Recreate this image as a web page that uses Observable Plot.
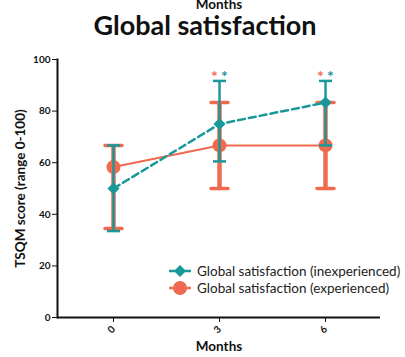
<!DOCTYPE html>
<html>
<head>
<meta charset="utf-8">
<script src="https://cdn.jsdelivr.net/npm/d3@7"></script>
<script src="https://cdn.jsdelivr.net/npm/@observablehq/plot@0.6"></script>
<style>
  html, body { margin: 0; padding: 0; background: #fff; }
  #wrap { position: relative; width: 405px; height: 357px; overflow: hidden; font-family: Lato, "Open Sans", sans-serif; }
  #topMonths { position: absolute; left: 0; width: 438px; top: -3px; text-align: center; font-weight: bold; font-size: 13.5px; color: #111; line-height: 14px; }
  #title { position: absolute; left: 0; width: 410px; top: 12px; text-align: center; font-weight: bold; font-size: 27px; color: #111; line-height: 26px; }
  #legend { position: absolute; left: 168px; top: 262px; font-size: 13.5px; color: #222; white-space: nowrap; }
  #legend div { height: 17px; display: flex; align-items: center; }
  #legend svg { margin-right: 5px; }
  #chart { position: absolute; left: 0; top: 0; }
  #chart svg { font-family: Lato, "Open Sans", sans-serif; }
</style>
</head>
<body>
<div id="wrap">
  <div id="chart"></div>
  <div id="topMonths">Months</div>
  <div id="title">Global satisfaction</div>
  <div id="legend"></div>
</div>
<script>
const months = [0, 3, 6];
const inexpMean = [50, 75, 83.3];
const inexpLow = [33.5, 60.5, 66.7];
const inexpHigh = [66.7, 91.7, 91.7];
const expMean = [58.3, 66.7, 66.7];
const expLow = [34.5, 50, 50];
const expHigh = [66.7, 83.3, 83.3];
const sigMonths = [3, 6];
const yTicks = [0, 20, 40, 60, 80, 100];
const seriesNames = ["Global satisfaction (inexperienced)", "Global satisfaction (experienced)"];

const TEAL = "#1a9899";
const ORANGE = "#ef6a4e";

const inexp = months.map((m, i) => ({month: m, mean: inexpMean[i], lo: inexpLow[i], hi: inexpHigh[i]}));
const exp = months.map((m, i) => ({month: m, mean: expMean[i], lo: expLow[i], hi: expHigh[i]}));
const sig = sigMonths.map(m => inexp.find(d => d.month === m));

const cap = { draw(ctx, size) { const r = Math.sqrt(size / Math.PI); ctx.moveTo(-r, 0); ctx.lineTo(r, 0); } };

const chart = Plot.plot({
  width: 405,
  height: 357,
  marginTop: 59,
  marginBottom: 40,
  marginLeft: 57,
  marginRight: 25,
  style: { background: "transparent" },
  x: { type: "point", domain: months, padding: 0.51 },
  y: { domain: [0, 100] },
  marks: [
    Plot.ruleY([0], { stroke: "#111", strokeWidth: 2 }),
    Plot.frame({ anchor: "left", stroke: "#111", strokeWidth: 2 }),
    Plot.axisY({ ticks: yTicks, tickSize: 5, tickPadding: 2, fontSize: 10, fontWeight: "bold", color: "#111",
      label: "TSQM score (range 0-100)", labelAnchor: "center", labelOffset: 42, labelArrow: false }),
    Plot.axisX({ ticks: months, tickSize: 5, tickRotate: -45, tickPadding: 5, fontSize: 10, fontWeight: "bold", color: "#111",
      label: "Months", labelAnchor: "center", labelOffset: 33, labelArrow: false }),
    // experienced
    Plot.line(exp, { x: "month", y: "mean", stroke: ORANGE, strokeWidth: 2 }),
    Plot.ruleX(exp, { x: "month", y1: "lo", y2: "hi", stroke: ORANGE, strokeWidth: 4.5 }),
    Plot.dot(exp, { x: "month", y: "lo", symbol: cap, r: 8.5, stroke: ORANGE, strokeWidth: 3.5, strokeLinecap: "round" }),
    Plot.dot(exp, { x: "month", y: "hi", symbol: cap, r: 8.5, stroke: ORANGE, strokeWidth: 3.5, strokeLinecap: "round" }),
    Plot.dot(exp, { x: "month", y: "mean", symbol: "circle", r: 7, fill: ORANGE, stroke: "none" }),
    // inexperienced
    Plot.line(inexp, { x: "month", y: "mean", stroke: TEAL, strokeWidth: 2.5, strokeDasharray: "7,4" }),
    Plot.ruleX(inexp, { x: "month", y1: "lo", y2: "hi", stroke: TEAL, strokeWidth: 2.5 }),
    Plot.dot(inexp, { x: "month", y: "lo", symbol: cap, r: 6.5, stroke: TEAL, strokeWidth: 2.5 }),
    Plot.dot(inexp, { x: "month", y: "hi", symbol: cap, r: 6.5, stroke: TEAL, strokeWidth: 2.5 }),
    Plot.dot(inexp, { x: "month", y: "mean", symbol: "diamond2", r: 5.5, fill: TEAL, stroke: "none" }),
    // significance asterisks
    Plot.text(sig, { x: "month", y: "hi", text: () => "*", dx: -5, dy: -4, fill: ORANGE, fontSize: 16, fontWeight: "bold" }),
    Plot.text(sig, { x: "month", y: "hi", text: () => "*", dx: 5, dy: -4, fill: TEAL, fontSize: 16, fontWeight: "bold" })
  ]
});
document.getElementById("chart").appendChild(chart);

chart.querySelectorAll('[aria-label="y-axis label"] text, [aria-label="x-axis label"] text').forEach(t => {
  t.setAttribute("font-weight", "bold");
  t.setAttribute("font-size", "13.5");
  t.setAttribute("fill", "#111");
});

// legend
const legend = document.getElementById("legend");
const items = [
  { name: seriesNames[0], color: TEAL, shape: "diamond" },
  { name: seriesNames[1], color: ORANGE, shape: "circle" }
];
items.forEach(it => {
  const row = document.createElement("div");
  const ns = "http://www.w3.org/2000/svg";
  const s = document.createElementNS(ns, "svg");
  s.setAttribute("width", "24"); s.setAttribute("height", "16");
  const ln = document.createElementNS(ns, "line");
  ln.setAttribute("x1", "1"); ln.setAttribute("x2", "23"); ln.setAttribute("y1", "8"); ln.setAttribute("y2", "8");
  ln.setAttribute("stroke", it.color); ln.setAttribute("stroke-width", "2.5");
  s.appendChild(ln);
  if (it.shape === "diamond") {
    const p = document.createElementNS(ns, "path");
    p.setAttribute("d", "M12,2 L18,8 L12,14 L6,8 Z"); p.setAttribute("fill", it.color);
    s.appendChild(p);
  } else {
    const c = document.createElementNS(ns, "circle");
    c.setAttribute("cx", "12"); c.setAttribute("cy", "8"); c.setAttribute("r", "7"); c.setAttribute("fill", it.color);
    s.appendChild(c);
  }
  row.appendChild(s);
  const sp = document.createElement("span");
  sp.textContent = it.name;
  row.appendChild(sp);
  legend.appendChild(row);
});
</script>
</body>
</html>
